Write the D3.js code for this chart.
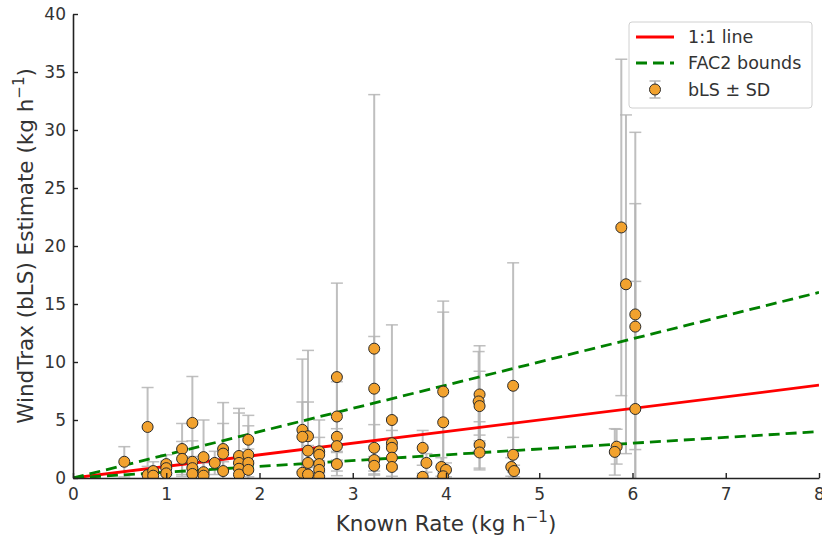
<!DOCTYPE html>
<html>
<head>
<meta charset="utf-8">
<script src="https://cdn.jsdelivr.net/npm/d3@7"></script>
<style>
  body { margin: 0; background: #fff; }
  svg { font-family: "DejaVu Sans", sans-serif; }
</style>
</head>
<body>
<svg id="chart" width="822" height="537"></svg>
<script>
// known release rate for each trial (kg/h)
const knownRate = [
  0.55, 0.80, 0.80, 0.86, 0.86, 1.00, 1.00, 1.00, 1.17, 1.17,
  1.28, 1.28, 1.28, 1.28, 1.40, 1.40, 1.40, 1.52, 1.61, 1.61,
  1.61, 1.78, 1.78, 1.78, 1.78, 1.88, 1.88, 1.88, 1.88, 2.46,
  2.52, 2.46, 2.52, 2.52, 2.46, 2.52, 2.64, 2.64, 2.64, 2.64,
  2.64, 2.83, 2.83, 2.83, 2.83, 2.83, 3.23, 3.23, 3.23, 3.23,
  3.23, 3.42, 3.42, 3.42, 3.42, 3.42, 3.75, 3.79, 3.75, 3.97,
  3.97, 3.95, 4.00, 3.97, 4.36, 4.35, 4.36, 4.36, 4.36, 4.72,
  4.72, 4.70, 4.73, 5.83, 5.81, 5.88, 5.93, 6.03, 6.03, 6.03
];
// WindTrax bLS estimate (kg/h)
const bls = [
  1.40, 4.40, 0.25, 0.60, 0.20, 1.20, 0.85, 0.40, 2.50, 1.65,
  4.75, 1.40, 0.85, 0.35, 1.80, 0.50, 0.20, 1.30, 2.50, 2.10,
  0.60, 1.90, 1.30, 0.80, 0.30, 3.30, 2.00, 1.30, 0.70, 4.15,
  3.60, 3.55, 2.35, 1.30, 0.45, 0.30, 2.30, 2.00, 1.20, 0.70,
  0.10, 8.70, 5.30, 3.55, 2.75, 1.20, 11.15, 7.70, 2.60, 1.55,
  1.05, 5.00, 3.00, 2.60, 1.75, 0.95, 2.60, 1.30, 0.10, 7.45,
  4.80, 0.95, 0.70, 0.15, 7.20, 6.60, 6.20, 2.85, 2.20, 7.95,
  2.00, 0.95, 0.60, 2.70, 2.25, 21.60, 16.70, 14.10, 13.05, 5.95
];
// standard deviation of each estimate
const blsSd = [
  1.3, 3.4, 0.5, 0.8, 0.4, 0.8, 0.6, 0.5, 2.2, 1.5,
  4.0, 1.8, 1.0, 0.6, 3.2, 0.8, 0.4, 1.0, 4.0, 2.6,
  0.8, 4.1, 4.3, 1.0, 0.6, 2.1, 2.5, 1.2, 0.8, 6.1,
  7.4, 3.0, 4.2, 1.5, 0.8, 0.6, 2.7, 1.5, 1.0, 0.8,
  0.3, 8.1, 3.0, 2.0, 1.5, 1.0, 21.9, 4.5, 2.0, 1.2,
  0.8, 8.2, 2.2, 1.5, 1.0, 0.8, 1.5, 0.8, 0.3, 7.8,
  9.5, 0.8, 0.6, 0.3, 4.2, 4.3, 3.0, 2.0, 1.5, 10.6,
  1.5, 0.8, 0.5, 1.5, 2.0, 14.5, 14.6, 15.7, 10.6, 11.0
];
const xTicks = [0, 1, 2, 3, 4, 5, 6, 7, 8];
const yTicks = [0, 5, 10, 15, 20, 25, 30, 35, 40];
const refLines = [
  { name: "1:1 line", slope: 1, color: "red", dash: null },
  { name: "FAC2 bounds", slope: 2, color: "green", dash: "11,6" },
  { name: "FAC2 bounds", slope: 0.5, color: "green", dash: "11,6" }
];

const svg = d3.select("#chart");
const padL = 73, padR = 819, padT = 14, padB = 478;

const x = d3.scaleLinear().domain([0, 8]).range([padL, padR]);
const y = d3.scaleLinear().domain([0, 40]).range([padB, padT]);

svg.append("clipPath").attr("id", "plotclip")
  .append("rect")
  .attr("x", padL).attr("y", padT)
  .attr("width", padR - padL).attr("height", padB - padT);

const plot = svg.append("g").attr("clip-path", "url(#plotclip)");

const pts = knownRate.map((k, i) => ({ k, v: bls[i], sd: blsSd[i] }));

// error bars
const eb = plot.append("g")
  .attr("stroke", "#b4b4b4")
  .attr("stroke-opacity", 0.85)
  .attr("stroke-width", 2);
pts.forEach(p => {
  const lo = p.v - p.sd, hi = p.v + p.sd;
  eb.append("line")
    .attr("x1", x(p.k)).attr("x2", x(p.k))
    .attr("y1", y(lo)).attr("y2", y(hi));
  [lo, hi].forEach(v => {
    eb.append("line")
      .attr("x1", x(p.k) - 6).attr("x2", x(p.k) + 6)
      .attr("y1", y(v)).attr("y2", y(v))
      .attr("stroke-width", 1.5);
  });
});

// reference lines
refLines.forEach(r => {
  plot.append("line")
    .attr("x1", x(0)).attr("y1", y(0))
    .attr("x2", x(8)).attr("y2", y(8 * r.slope))
    .attr("stroke", r.color)
    .attr("stroke-width", 2.8)
    .attr("stroke-dasharray", r.dash);
});

// points
plot.append("g").selectAll("circle")
  .data(pts)
  .join("circle")
  .attr("cx", d => x(d.k))
  .attr("cy", d => y(d.v))
  .attr("r", 5.5)
  .attr("fill", "#f2a22e")
  .attr("stroke", "#2b2b2b")
  .attr("stroke-width", 1);

// axes with inward ticks
const xAxis = svg.append("g")
  .attr("transform", `translate(0,${padB})`)
  .call(d3.axisBottom(x).tickValues(xTicks).tickSizeInner(-5).tickSizeOuter(0).tickPadding(10));
const yAxis = svg.append("g")
  .attr("transform", `translate(${padL},0)`)
  .call(d3.axisLeft(y).tickValues(yTicks).tickSizeInner(-5).tickSizeOuter(0).tickPadding(7));

[xAxis, yAxis].forEach(a => {
  a.select(".domain").attr("stroke", "#222").attr("stroke-width", 1.6);
  a.selectAll(".tick line").attr("stroke", "#222").attr("stroke-width", 1.4);
  a.selectAll(".tick text").attr("font-size", 17).attr("fill", "#333")
    .attr("font-family", "DejaVu Sans, sans-serif");
});

// axis titles
const xt = svg.append("text")
  .attr("x", (padL + padR) / 2).attr("y", 531)
  .attr("text-anchor", "middle")
  .attr("font-size", 21.5).attr("fill", "#333");
xt.append("tspan").text("Known Rate (kg h");
xt.append("tspan").text("\u22121").attr("font-size", 15).attr("dy", -9);
xt.append("tspan").text(")").attr("dy", 9);

const yt = svg.append("text")
  .attr("transform", `translate(33,${(padT + padB) / 2}) rotate(-90)`)
  .attr("text-anchor", "middle")
  .attr("font-size", 21.5).attr("fill", "#333");
yt.append("tspan").text("WindTrax (bLS) Estimate (kg h");
yt.append("tspan").text("\u22121").attr("font-size", 15).attr("dy", -9);
yt.append("tspan").text(")").attr("dy", 9);

// legend
const lg = svg.append("g").attr("transform", "translate(629,22)");
lg.append("rect")
  .attr("width", 183).attr("height", 86).attr("rx", 3)
  .attr("fill", "#fff").attr("fill-opacity", 0.85)
  .attr("stroke", "#d0d0d0").attr("stroke-width", 1);
lg.append("line").attr("x1", 7).attr("x2", 45).attr("y1", 15).attr("y2", 15)
  .attr("stroke", "red").attr("stroke-width", 2.8);
lg.append("line").attr("x1", 7).attr("x2", 45).attr("y1", 41).attr("y2", 41)
  .attr("stroke", "green").attr("stroke-width", 2.8).attr("stroke-dasharray", "11,6");
lg.append("line").attr("x1", 26).attr("x2", 26).attr("y1", 59).attr("y2", 76)
  .attr("stroke", "#b4b4b4").attr("stroke-width", 2);
[59, 76].forEach(v => lg.append("line").attr("x1", 20.5).attr("x2", 31.5).attr("y1", v).attr("y2", v)
  .attr("stroke", "#b4b4b4").attr("stroke-width", 1.5));
lg.append("circle").attr("cx", 26).attr("cy", 67.5).attr("r", 5.5)
  .attr("fill", "#f2a22e").attr("stroke", "#2b2b2b").attr("stroke-width", 1);
["1:1 line", "FAC2 bounds", "bLS \u00b1 SD"].forEach((t, i) => {
  lg.append("text").attr("x", 59).attr("y", 15 + i * 26.3).attr("dy", "0.35em")
    .attr("font-size", 17.5).attr("fill", "#333").text(t);
});
</script>
</body>
</html>
